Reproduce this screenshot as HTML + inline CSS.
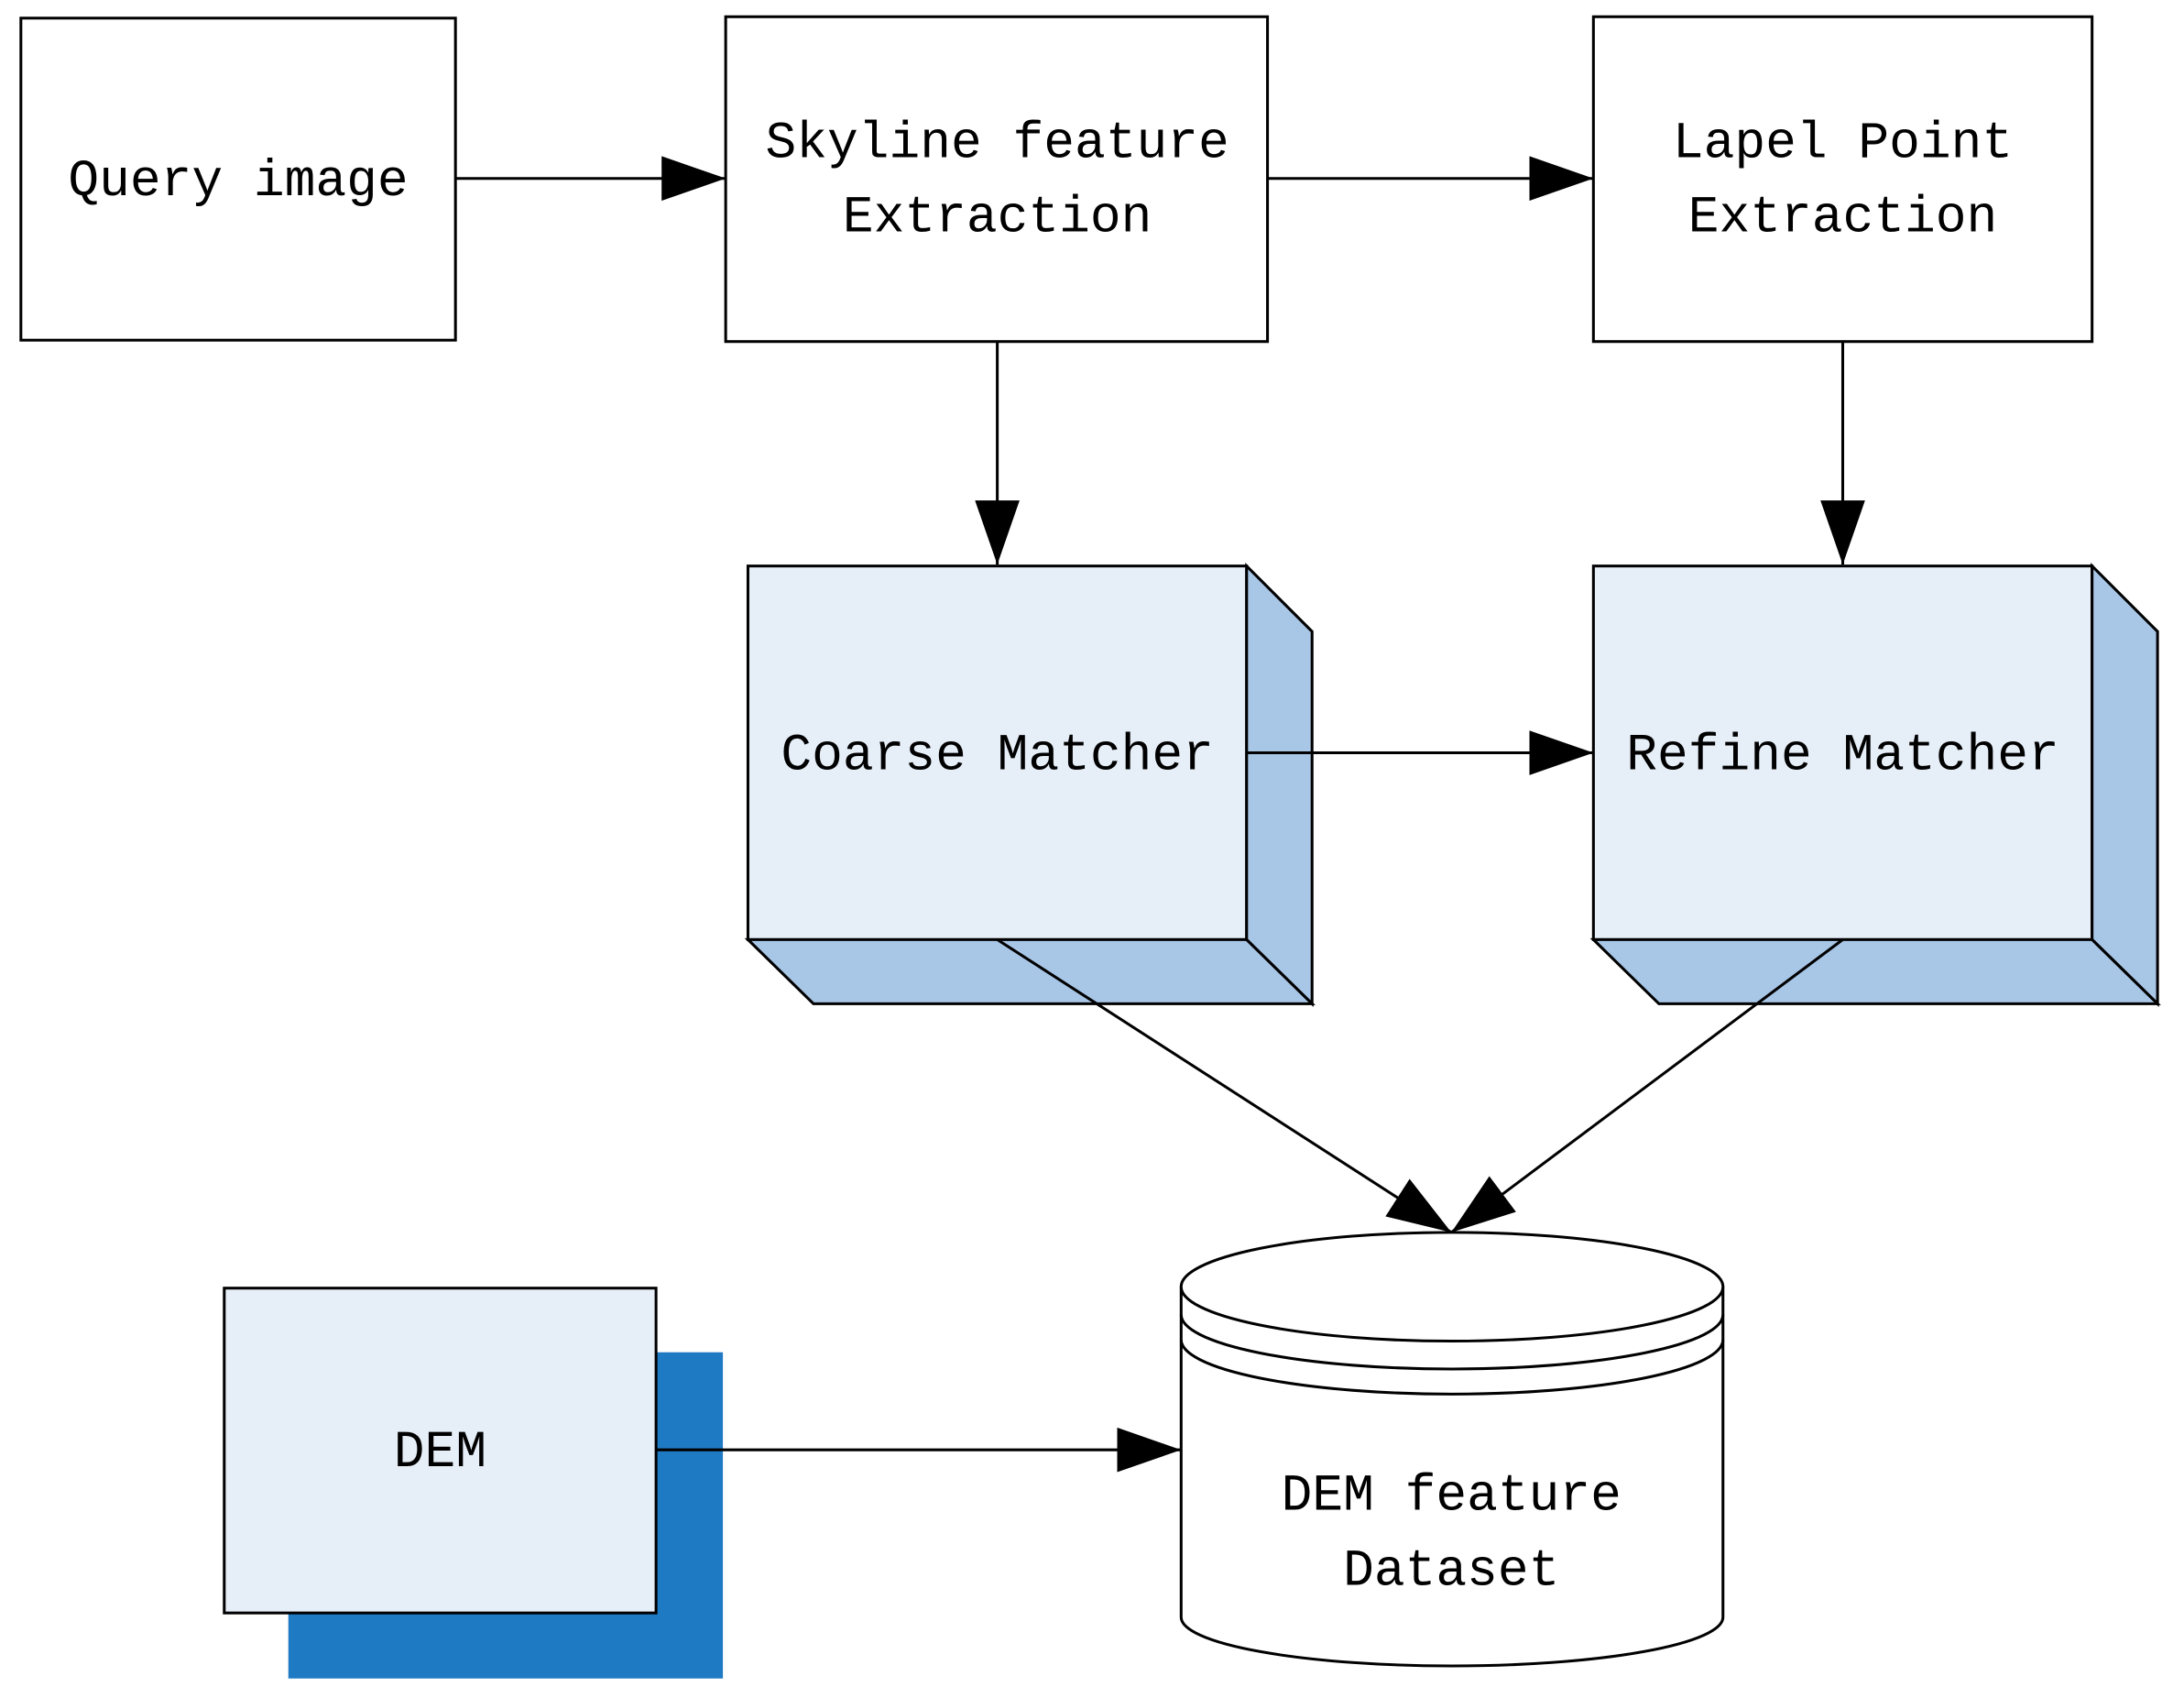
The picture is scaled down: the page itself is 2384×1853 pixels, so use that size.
<!DOCTYPE html>
<html><head><meta charset="utf-8"><style>
html,body{margin:0;padding:0;background:#fff;}
svg{display:block;}
text{font-family:"Liberation Mono","Noto Serif CJK SC",monospace;font-size:37px;fill:#000;text-anchor:middle;dominant-baseline:central;}
</style></head><body>
<svg width="2384" height="1853" viewBox="0 0 1568 1218" preserveAspectRatio="none" xmlns="http://www.w3.org/2000/svg">
<defs>
<marker id="a" markerWidth="46" markerHeight="32" refX="46" refY="16" orient="auto" markerUnits="userSpaceOnUse">
<path d="M0,0 L46,16 L0,32 z" fill="#000"/>
</marker>
</defs>
<g stroke="#000" stroke-width="2">
<rect x="15" y="13" width="312" height="231" fill="#fff"/>
<rect x="521" y="12" width="389" height="233" fill="#fff"/>
<rect x="1144" y="12" width="358" height="233" fill="#fff"/>

<line x1="327" y1="128" x2="521" y2="128" marker-end="url(#a)"/>
<line x1="910" y1="128" x2="1144" y2="128" marker-end="url(#a)"/>
<line x1="716" y1="245" x2="716" y2="405" marker-end="url(#a)"/>
<line x1="1323" y1="245" x2="1323" y2="405" marker-end="url(#a)"/>

<rect x="537" y="406" width="358" height="268" fill="#e6eef8"/>
<path d="M895,406 L942,453 L942,720 L895,674 z" fill="#a8c6e6"/>
<path d="M537,674 L895,674 L942,720 L584,720 z" fill="#a8c6e6"/>
<rect x="1144" y="406" width="358" height="268" fill="#e6eef8"/>
<path d="M1502,406 L1549,453 L1549,720 L1502,674 z" fill="#a8c6e6"/>
<path d="M1144,674 L1502,674 L1549,720 L1191,720 z" fill="#a8c6e6"/>

<line x1="895" y1="540" x2="1144" y2="540" marker-end="url(#a)"/>
<line x1="716" y1="674" x2="1042" y2="884" marker-end="url(#a)"/>
<line x1="1323" y1="674" x2="1042" y2="884" marker-end="url(#a)"/>

<path d="M848,923 L848,1160 A194.5,35 0 0 0 1237,1160 L1237,923" fill="#fff"/>
<ellipse cx="1042.5" cy="923" rx="194.5" ry="39" fill="#fff"/>
<path d="M848,943 A194.5,39 0 0 0 1237,943" fill="none"/>
<path d="M848,961 A194.5,39 0 0 0 1237,961" fill="none"/>

<rect x="207" y="970" width="312" height="234" fill="#1f7ac4" stroke="none"/>
<rect x="161" y="924" width="310" height="233" fill="#e6eef8"/>
<line x1="471" y1="1040" x2="848" y2="1040" marker-end="url(#a)"/>
</g>
<text x="171" y="130">Query image</text>
<text x="716" y="103">Skyline feature</text>
<text x="716" y="156">Extraction</text>
<text x="1323" y="103">Lapel Point</text>
<text x="1323" y="156">Extraction</text>
<text x="716" y="542">Coarse Matcher</text>
<text x="1323" y="542">Refine Matcher</text>
<text x="316" y="1042">DEM</text>
<text x="1042" y="1073">DEM feature</text>
<text x="1042" y="1127">Dataset</text>
</svg>
</body></html>
